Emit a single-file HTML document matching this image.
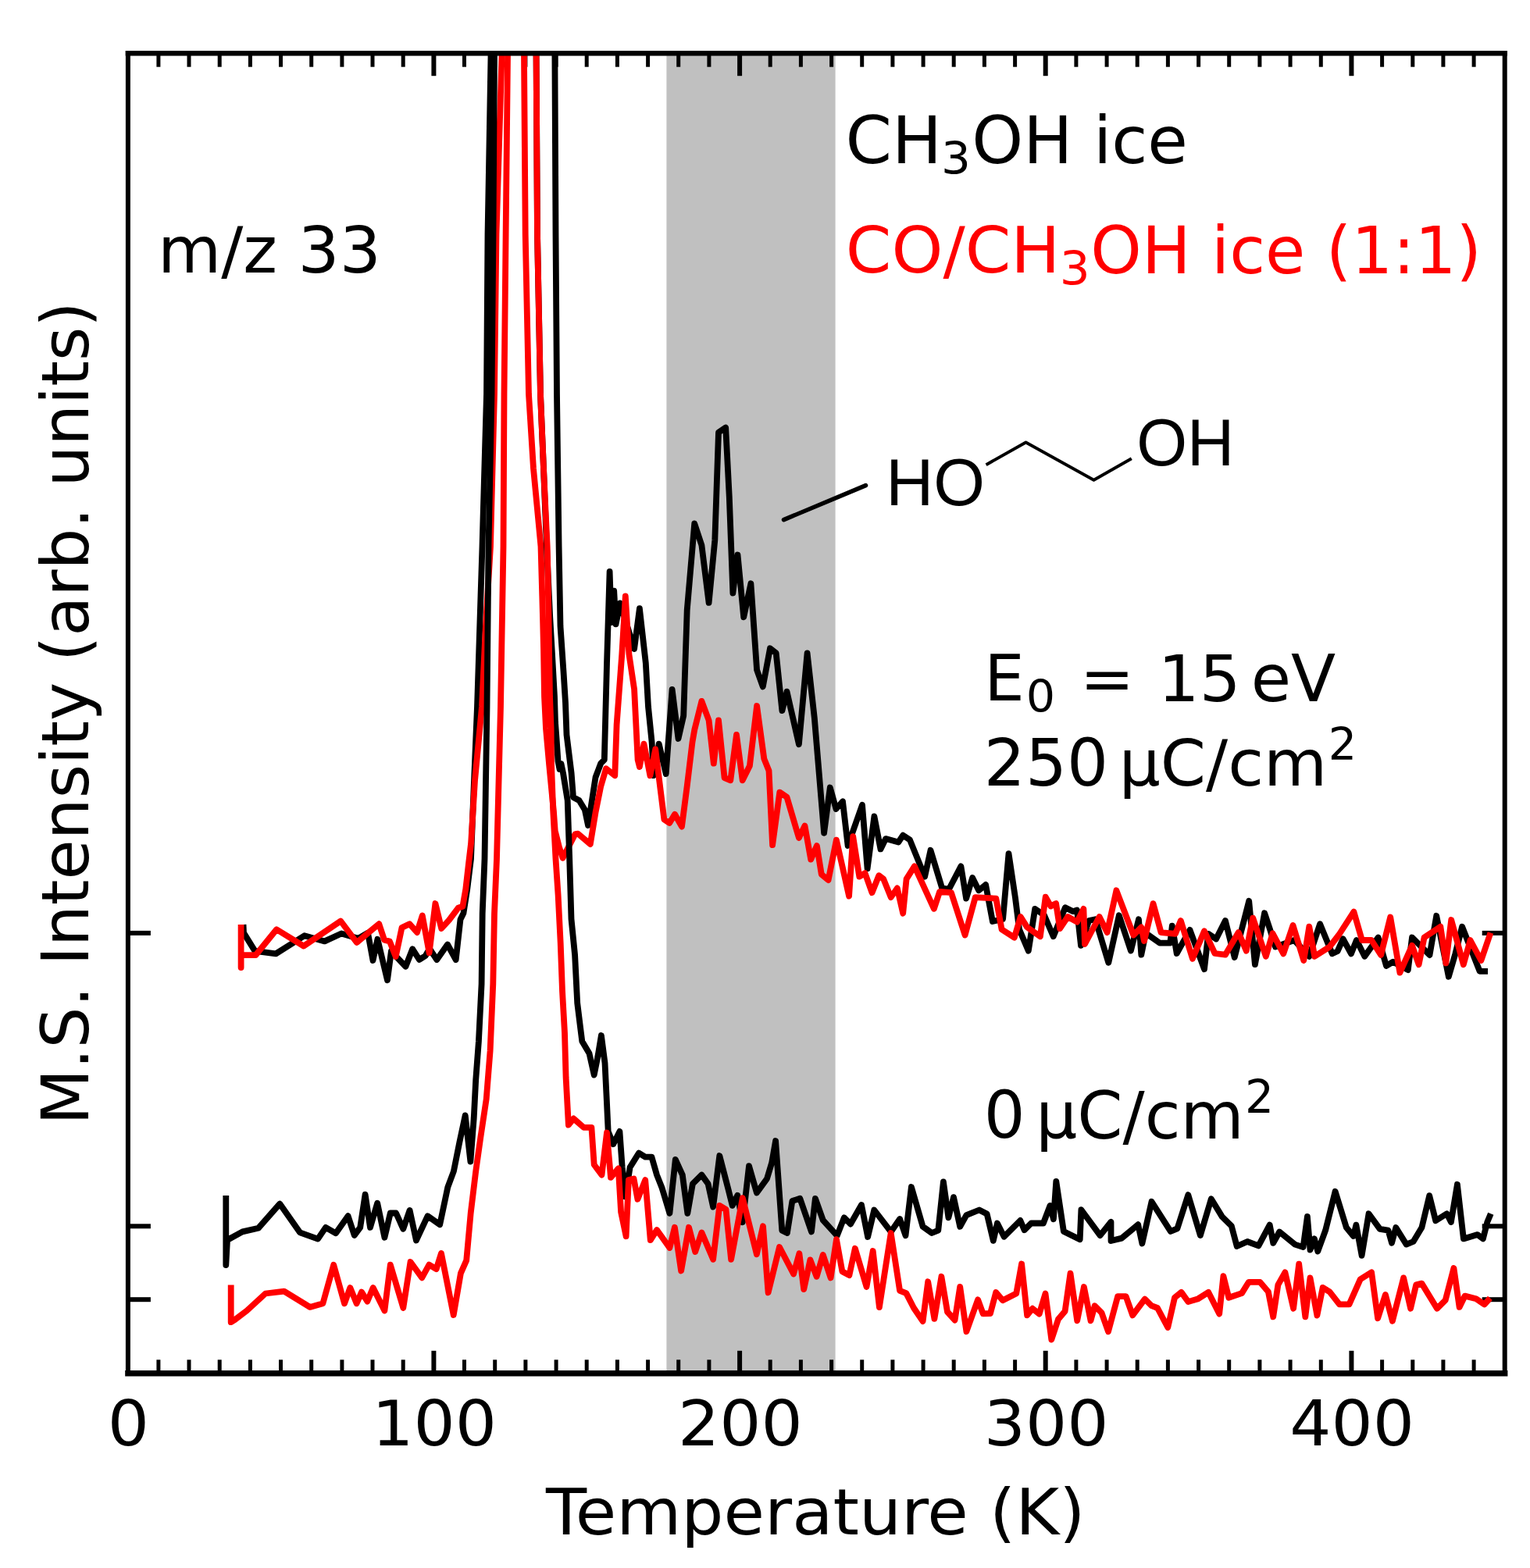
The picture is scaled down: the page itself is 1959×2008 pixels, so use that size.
<!DOCTYPE html>
<html><head><meta charset="utf-8"><title>m/z 33 TPD</title>
<style>html,body{margin:0;padding:0;background:#fff;}svg{display:block;}</style>
</head><body>
<svg xmlns="http://www.w3.org/2000/svg" width="1959" height="2008" viewBox="0 0 1959 2008">
<defs><clipPath id="c"><rect x="163.9" y="68.2" width="1762.8" height="1690.6"/></clipPath></defs>
<rect x="0" y="0" width="1959" height="2008" fill="#fff"/>
<rect x="853.4" y="68.2" width="216.2" height="1690.6" fill="#c0c0c0"/>
<g stroke="#000"><line x1="202.9" y1="1758.8" x2="202.9" y2="1741.3" stroke-width="5"/><line x1="202.9" y1="68.2" x2="202.9" y2="85.7" stroke-width="5"/><line x1="242.0" y1="1758.8" x2="242.0" y2="1741.3" stroke-width="5"/><line x1="242.0" y1="68.2" x2="242.0" y2="85.7" stroke-width="5"/><line x1="281.2" y1="1758.8" x2="281.2" y2="1741.3" stroke-width="5"/><line x1="281.2" y1="68.2" x2="281.2" y2="85.7" stroke-width="5"/><line x1="320.4" y1="1758.8" x2="320.4" y2="1741.3" stroke-width="5"/><line x1="320.4" y1="68.2" x2="320.4" y2="85.7" stroke-width="5"/><line x1="359.5" y1="1758.8" x2="359.5" y2="1741.3" stroke-width="5"/><line x1="359.5" y1="68.2" x2="359.5" y2="85.7" stroke-width="5"/><line x1="398.7" y1="1758.8" x2="398.7" y2="1741.3" stroke-width="5"/><line x1="398.7" y1="68.2" x2="398.7" y2="85.7" stroke-width="5"/><line x1="437.9" y1="1758.8" x2="437.9" y2="1741.3" stroke-width="5"/><line x1="437.9" y1="68.2" x2="437.9" y2="85.7" stroke-width="5"/><line x1="477.0" y1="1758.8" x2="477.0" y2="1741.3" stroke-width="5"/><line x1="477.0" y1="68.2" x2="477.0" y2="85.7" stroke-width="5"/><line x1="516.2" y1="1758.8" x2="516.2" y2="1741.3" stroke-width="5"/><line x1="516.2" y1="68.2" x2="516.2" y2="85.7" stroke-width="5"/><line x1="555.4" y1="1758.8" x2="555.4" y2="1729.8" stroke-width="6"/><line x1="555.4" y1="68.2" x2="555.4" y2="97.2" stroke-width="6"/><line x1="594.5" y1="1758.8" x2="594.5" y2="1741.3" stroke-width="5"/><line x1="594.5" y1="68.2" x2="594.5" y2="85.7" stroke-width="5"/><line x1="633.7" y1="1758.8" x2="633.7" y2="1741.3" stroke-width="5"/><line x1="633.7" y1="68.2" x2="633.7" y2="85.7" stroke-width="5"/><line x1="672.9" y1="1758.8" x2="672.9" y2="1741.3" stroke-width="5"/><line x1="672.9" y1="68.2" x2="672.9" y2="85.7" stroke-width="5"/><line x1="712.1" y1="1758.8" x2="712.1" y2="1741.3" stroke-width="5"/><line x1="712.1" y1="68.2" x2="712.1" y2="85.7" stroke-width="5"/><line x1="751.2" y1="1758.8" x2="751.2" y2="1741.3" stroke-width="5"/><line x1="751.2" y1="68.2" x2="751.2" y2="85.7" stroke-width="5"/><line x1="790.4" y1="1758.8" x2="790.4" y2="1741.3" stroke-width="5"/><line x1="790.4" y1="68.2" x2="790.4" y2="85.7" stroke-width="5"/><line x1="829.6" y1="1758.8" x2="829.6" y2="1741.3" stroke-width="5"/><line x1="829.6" y1="68.2" x2="829.6" y2="85.7" stroke-width="5"/><line x1="868.7" y1="1758.8" x2="868.7" y2="1741.3" stroke-width="5"/><line x1="868.7" y1="68.2" x2="868.7" y2="85.7" stroke-width="5"/><line x1="907.9" y1="1758.8" x2="907.9" y2="1741.3" stroke-width="5"/><line x1="907.9" y1="68.2" x2="907.9" y2="85.7" stroke-width="5"/><line x1="947.1" y1="1758.8" x2="947.1" y2="1729.8" stroke-width="6"/><line x1="947.1" y1="68.2" x2="947.1" y2="97.2" stroke-width="6"/><line x1="986.2" y1="1758.8" x2="986.2" y2="1741.3" stroke-width="5"/><line x1="986.2" y1="68.2" x2="986.2" y2="85.7" stroke-width="5"/><line x1="1025.4" y1="1758.8" x2="1025.4" y2="1741.3" stroke-width="5"/><line x1="1025.4" y1="68.2" x2="1025.4" y2="85.7" stroke-width="5"/><line x1="1064.6" y1="1758.8" x2="1064.6" y2="1741.3" stroke-width="5"/><line x1="1064.6" y1="68.2" x2="1064.6" y2="85.7" stroke-width="5"/><line x1="1103.7" y1="1758.8" x2="1103.7" y2="1741.3" stroke-width="5"/><line x1="1103.7" y1="68.2" x2="1103.7" y2="85.7" stroke-width="5"/><line x1="1142.9" y1="1758.8" x2="1142.9" y2="1741.3" stroke-width="5"/><line x1="1142.9" y1="68.2" x2="1142.9" y2="85.7" stroke-width="5"/><line x1="1182.1" y1="1758.8" x2="1182.1" y2="1741.3" stroke-width="5"/><line x1="1182.1" y1="68.2" x2="1182.1" y2="85.7" stroke-width="5"/><line x1="1221.2" y1="1758.8" x2="1221.2" y2="1741.3" stroke-width="5"/><line x1="1221.2" y1="68.2" x2="1221.2" y2="85.7" stroke-width="5"/><line x1="1260.4" y1="1758.8" x2="1260.4" y2="1741.3" stroke-width="5"/><line x1="1260.4" y1="68.2" x2="1260.4" y2="85.7" stroke-width="5"/><line x1="1299.6" y1="1758.8" x2="1299.6" y2="1741.3" stroke-width="5"/><line x1="1299.6" y1="68.2" x2="1299.6" y2="85.7" stroke-width="5"/><line x1="1338.7" y1="1758.8" x2="1338.7" y2="1729.8" stroke-width="6"/><line x1="1338.7" y1="68.2" x2="1338.7" y2="97.2" stroke-width="6"/><line x1="1377.9" y1="1758.8" x2="1377.9" y2="1741.3" stroke-width="5"/><line x1="1377.9" y1="68.2" x2="1377.9" y2="85.7" stroke-width="5"/><line x1="1417.1" y1="1758.8" x2="1417.1" y2="1741.3" stroke-width="5"/><line x1="1417.1" y1="68.2" x2="1417.1" y2="85.7" stroke-width="5"/><line x1="1456.2" y1="1758.8" x2="1456.2" y2="1741.3" stroke-width="5"/><line x1="1456.2" y1="68.2" x2="1456.2" y2="85.7" stroke-width="5"/><line x1="1495.4" y1="1758.8" x2="1495.4" y2="1741.3" stroke-width="5"/><line x1="1495.4" y1="68.2" x2="1495.4" y2="85.7" stroke-width="5"/><line x1="1534.6" y1="1758.8" x2="1534.6" y2="1741.3" stroke-width="5"/><line x1="1534.6" y1="68.2" x2="1534.6" y2="85.7" stroke-width="5"/><line x1="1573.7" y1="1758.8" x2="1573.7" y2="1741.3" stroke-width="5"/><line x1="1573.7" y1="68.2" x2="1573.7" y2="85.7" stroke-width="5"/><line x1="1612.9" y1="1758.8" x2="1612.9" y2="1741.3" stroke-width="5"/><line x1="1612.9" y1="68.2" x2="1612.9" y2="85.7" stroke-width="5"/><line x1="1652.1" y1="1758.8" x2="1652.1" y2="1741.3" stroke-width="5"/><line x1="1652.1" y1="68.2" x2="1652.1" y2="85.7" stroke-width="5"/><line x1="1691.3" y1="1758.8" x2="1691.3" y2="1741.3" stroke-width="5"/><line x1="1691.3" y1="68.2" x2="1691.3" y2="85.7" stroke-width="5"/><line x1="1730.4" y1="1758.8" x2="1730.4" y2="1729.8" stroke-width="6"/><line x1="1730.4" y1="68.2" x2="1730.4" y2="97.2" stroke-width="6"/><line x1="1769.6" y1="1758.8" x2="1769.6" y2="1741.3" stroke-width="5"/><line x1="1769.6" y1="68.2" x2="1769.6" y2="85.7" stroke-width="5"/><line x1="1808.8" y1="1758.8" x2="1808.8" y2="1741.3" stroke-width="5"/><line x1="1808.8" y1="68.2" x2="1808.8" y2="85.7" stroke-width="5"/><line x1="1847.9" y1="1758.8" x2="1847.9" y2="1741.3" stroke-width="5"/><line x1="1847.9" y1="68.2" x2="1847.9" y2="85.7" stroke-width="5"/><line x1="1887.1" y1="1758.8" x2="1887.1" y2="1741.3" stroke-width="5"/><line x1="1887.1" y1="68.2" x2="1887.1" y2="85.7" stroke-width="5"/><line x1="163.9" y1="1194.9" x2="192.9" y2="1194.9" stroke-width="6"/><line x1="1926.7" y1="1194.9" x2="1897.7" y2="1194.9" stroke-width="6"/><line x1="163.9" y1="1570.3" x2="192.9" y2="1570.3" stroke-width="6"/><line x1="1926.7" y1="1570.3" x2="1897.7" y2="1570.3" stroke-width="6"/><line x1="163.9" y1="1664.2" x2="192.9" y2="1664.2" stroke-width="6"/><line x1="1926.7" y1="1664.2" x2="1897.7" y2="1664.2" stroke-width="6"/></g>
<g clip-path="url(#c)" fill="none" stroke-width="7.80" stroke-linejoin="round" stroke-linecap="butt">
<polyline stroke="#000" points="311.5,1184.0 312.0,1194.6 326.4,1217.9 353.2,1221.4 389.8,1198.2 415.7,1205.4 437.1,1195.5 458.6,1201.8 471.0,1194.6 477.5,1230.0 483.4,1202.7 496.0,1255.3 500.9,1218.3 519.4,1237.7 528.2,1215.3 536.9,1229.0 544.7,1224.0 550.0,1215.0 559.3,1229.0 573.0,1209.5 583.7,1229.0 589.5,1177.4 593.4,1169.6 598.3,1138.4 603.0,1100.0 607.0,1000.0 611.0,905.0 617.5,700.0 623.0,505.0 624.5,300.0 628.5,72.0 629.0,30.0 710.0,30.0 710.4,72.0 711.5,300.0 713.0,505.0 715.6,700.0 717.5,802.0 721.5,860.0 724.0,900.0 725.5,941.0 731.6,990.0 734.0,1021.0 741.5,1025.0 748.8,1037.0 753.0,1057.0 762.5,995.5 769.3,977.5 773.8,973.0 777.0,850.0 780.6,731.8 782.8,797.2 786.2,756.6 788.5,799.4 794.0,772.4 812.1,831.0 818.9,779.2 826.8,849.0 830.0,905.0 834.6,950.4 836.9,993.2 843.7,952.7 852.7,991.0 860.6,882.8 868.5,946.0 875.2,916.6 879.7,781.4 886.5,702.5 889.2,670.5 898.4,698.2 907.6,771.9 915.3,692.0 920.0,553.8 929.2,547.6 933.8,636.7 938.4,759.6 944.5,710.5 952.2,790.4 961.4,747.3 969.1,858.0 976.8,879.4 986.0,830.3 993.7,836.4 1001.4,910.2 1007.5,885.6 1022.9,953.2 1033.6,836.4 1042.8,919.4 1055.1,1066.8 1062.8,1008.5 1070.5,1036.0 1079.0,1026.3 1085.6,1083.0 1104.0,1030.7 1110.6,1112.4 1119.4,1045.4 1127.5,1087.4 1134.1,1074.1 1150.3,1078.5 1156.2,1069.7 1165.0,1075.6 1184.1,1122.6 1191.5,1088.8 1206.2,1137.4 1215.0,1138.8 1230.4,1109.4 1237.1,1150.6 1245.1,1124.1 1253.2,1140.3 1262.1,1133.0 1270.9,1180.0 1284.1,1177.0 1291.5,1093.2 1300.0,1150.0 1305.0,1190.0 1316.8,1217.6 1325.2,1163.9 1337.0,1172.0 1348.7,1199.2 1363.9,1162.2 1374.0,1167.2 1379.0,1165.5 1384.0,1210.9 1394.1,1179.0 1402.5,1177.3 1419.3,1232.8 1432.8,1172.3 1447.9,1217.6 1458.0,1177.3 1461.3,1222.7 1467.0,1195.0 1484.9,1207.6 1498.3,1207.6 1500.8,1185.7 1506.7,1221.0 1523.5,1190.8 1542.0,1241.2 1547.1,1195.8 1557.1,1202.5 1568.9,1179.0 1580.7,1226.0 1599.2,1153.8 1606.9,1235.2 1619.1,1169.3 1626.0,1190.0 1633.0,1212.6 1657.2,1204.0 1676.3,1224.8 1690.1,1183.2 1705.7,1221.3 1712.7,1217.9 1719.6,1202.3 1730.0,1221.3 1736.9,1204.0 1747.3,1224.8 1764.6,1200.5 1775.0,1236.9 1783.7,1231.7 1802.8,1242.1 1808.0,1200.5 1830.5,1223.0 1839.2,1172.8 1854.8,1250.8 1863.4,1221.3 1872.1,1186.7 1894.6,1243.8 1905.0,1243.8"/>
<polyline stroke="#f00" points="308.6,1184.0 308.6,1239.0 308.6,1223.0 327.3,1223.2 354.1,1190.2 388.9,1211.6 436.2,1179.5 456.8,1207.0 474.6,1192.0 485.3,1183.2 492.1,1203.7 499.0,1205.6 506.7,1225.0 514.5,1188.0 524.3,1183.2 534.0,1194.0 540.8,1172.5 549.6,1220.2 557.4,1157.0 565.2,1189.0 574.9,1178.3 586.6,1162.8 592.4,1160.8 596.3,1138.4 600.2,1104.3 603.1,1080.0 608.0,1000.0 617.0,905.0 622.0,800.0 628.0,700.0 633.0,505.0 635.5,300.0 642.5,72.0 643.0,30.0 670.8,30.0 671.0,72.0 672.7,300.0 677.0,505.0 683.0,600.0 692.5,700.0 695.0,790.0 696.0,831.0 697.0,892.0 699.0,933.0 703.0,978.0 709.0,1040.0 710.7,1064.0 716.0,1085.0 720.6,1098.8 736.5,1068.0 740.0,1067.6 755.8,1081.0 762.5,1040.6 769.3,1006.8 776.0,984.2 787.3,993.2 789.6,927.9 796.3,837.7 800.8,763.4 805.4,837.7 812.1,882.8 816.6,973.0 818.9,982.0 824.5,952.7 832.4,993.2 839.2,959.4 850.4,1049.6 857.2,1054.0 864.0,1042.8 873.0,1058.6 879.7,1006.8 886.5,950.4 889.2,934.8 898.4,897.9 907.6,922.5 913.8,977.7 920.0,922.5 927.6,996.2 935.3,999.3 943.0,940.9 950.7,999.3 959.9,980.8 969.1,904.0 978.3,971.6 984.5,987.0 989.1,1082.2 998.3,1014.6 1007.5,1020.8 1022.9,1073.0 1030.5,1057.6 1038.2,1100.6 1045.9,1083.0 1051.8,1119.7 1060.6,1127.0 1070.9,1075.6 1087.1,1147.6 1092.2,1071.2 1100.3,1122.6 1107.6,1118.2 1116.5,1143.2 1125.3,1121.2 1131.2,1125.6 1140.7,1149.1 1148.8,1137.4 1156.2,1169.7 1160.6,1125.6 1170.9,1109.4 1195.9,1163.8 1203.2,1141.8 1218.0,1143.2 1235.6,1197.6 1248.8,1149.1 1275.3,1150.6 1282.6,1190.3 1298.8,1200.6 1306.7,1174.0 1315.1,1187.4 1331.9,1199.2 1338.7,1148.7 1345.4,1160.5 1352.1,1157.1 1357.1,1189.1 1367.2,1174.0 1379.0,1180.7 1387.4,1163.9 1389.0,1209.0 1407.6,1174.0 1417.6,1194.1 1429.4,1140.3 1451.3,1197.5 1461.3,1187.4 1465.0,1205.0 1476.5,1157.1 1486.6,1194.1 1505.0,1195.8 1511.8,1179.0 1526.9,1227.7 1542.0,1192.4 1555.5,1221.0 1568.9,1222.7 1585.7,1194.1 1595.8,1217.6 1604.2,1175.6 1620.8,1224.8 1629.5,1195.3 1643.3,1221.3 1655.5,1184.9 1669.3,1230.0 1676.3,1186.7 1683.2,1224.8 1702.3,1212.6 1714.4,1197.0 1733.4,1167.6 1743.9,1204.0 1756.0,1204.0 1768.1,1223.0 1780.2,1174.5 1792.4,1245.6 1808.0,1210.9 1816.6,1235.2 1823.6,1200.5 1844.4,1186.7 1851.3,1233.4 1858.2,1178.0 1873.8,1235.2 1882.5,1204.0 1896.4,1230.0 1908.5,1194.5"/>
<polyline stroke="#000" points="289.3,1531.0 289.3,1620.0 291.0,1588.0 310.4,1577.4 330.7,1572.8 358.2,1541.6 384.0,1578.3 407.0,1586.6 417.0,1571.9 430.0,1579.3 445.6,1557.2 453.8,1582.0 461.2,1571.9 467.6,1529.6 474.0,1571.9 483.2,1540.7 492.4,1584.8 499.8,1553.5 507.1,1553.5 516.3,1573.8 524.6,1549.9 532.9,1588.5 547.6,1557.2 563.2,1568.2 573.3,1520.4 580.9,1500.0 588.3,1462.9 595.7,1428.4 602.4,1487.5 606.7,1432.1 609.2,1383.0 612.9,1333.8 616.6,1260.0 617.7,1170.0 620.5,1100.0 623.5,905.0 625.5,700.0 629.5,505.0 631.5,300.0 633.0,72.0 633.5,30.0 686.5,30.0 686.6,72.0 688.0,300.0 692.0,505.0 696.0,600.0 700.0,700.0 704.2,790.0 706.6,831.0 710.0,892.0 711.0,925.0 712.5,945.0 714.5,975.0 716.5,985.0 718.5,978.0 721.0,990.0 726.7,1025.0 729.2,1100.0 731.5,1176.8 736.1,1223.0 739.2,1284.4 743.0,1315.2 745.3,1333.6 754.5,1349.0 760.7,1376.6 765.3,1353.6 769.9,1326.0 774.5,1361.3 777.0,1412.8 778.7,1448.9 785.2,1465.2 793.4,1448.9 796.7,1494.8 800.8,1532.5 806.6,1494.8 818.0,1476.7 826.2,1481.6 834.4,1481.6 841.0,1504.6 847.5,1521.0 857.4,1553.8 864.8,1484.9 873.8,1504.6 880.3,1553.8 886.9,1516.0 898.4,1504.6 906.6,1516.0 913.1,1545.6 921.3,1480.0 932.8,1524.3 937.7,1543.9 944.3,1530.8 950.8,1565.2 959.0,1493.1 968.9,1527.5 982.0,1509.5 988.2,1488.9 993.1,1461.0 1001.3,1575.7 1007.9,1579.0 1014.4,1538.0 1024.3,1534.8 1039.0,1577.4 1043.9,1534.8 1053.8,1562.6 1071.8,1582.3 1080.8,1559.3 1089.0,1567.5 1103.0,1543.0 1111.1,1584.0 1119.3,1549.5 1140.7,1577.4 1152.1,1561.0 1159.5,1582.3 1166.9,1520.0 1181.6,1570.8 1193.1,1579.0 1201.3,1575.7 1207.9,1513.4 1214.4,1559.3 1221.0,1533.1 1229.2,1570.8 1237.4,1556.1 1253.8,1549.5 1263.6,1554.4 1271.8,1588.9 1276.9,1566.5 1285.6,1583.8 1306.4,1563.0 1311.6,1575.2 1320.3,1566.5 1335.9,1566.5 1344.5,1544.0 1348.9,1561.3 1352.3,1512.8 1361.9,1576.9 1382.7,1587.3 1384.4,1549.2 1408.6,1582.1 1422.5,1564.8 1422.5,1589.0 1436.4,1585.6 1457.2,1568.2 1462.4,1592.5 1474.5,1538.8 1498.8,1576.9 1507.4,1573.4 1521.3,1530.1 1536.9,1582.1 1550.8,1535.3 1564.6,1557.9 1576.8,1570.0 1583.7,1596.0 1597.1,1590.0 1611.4,1595.4 1625.7,1568.6 1630.2,1591.8 1638.2,1577.5 1657.9,1593.6 1668.6,1597.1 1673.9,1557.9 1677.5,1600.7 1682.9,1586.4 1687.3,1602.5 1697.1,1575.7 1709.6,1525.7 1723.9,1572.1 1732.9,1582.9 1736.4,1568.6 1743.6,1607.9 1752.5,1554.3 1766.8,1573.9 1777.5,1575.7 1782.0,1591.8 1787.3,1572.1 1800.7,1593.6 1809.6,1590.0 1820.4,1572.1 1830.2,1531.1 1838.2,1563.2 1852.5,1554.3 1857.9,1565.0 1865.9,1516.8 1873.9,1586.4 1891.8,1581.1 1898.9,1586.4 1904.3,1565.0 1908.8,1554.3"/>
<polyline stroke="#f00" points="295.7,1645.4 295.7,1693.2 301.3,1689.6 316.0,1678.5 339.9,1656.5 363.8,1653.7 396.8,1673.9 413.4,1669.3 427.2,1619.7 441.0,1669.3 448.3,1649.1 456.6,1669.3 463.0,1654.6 470.4,1666.6 477.7,1649.1 492.4,1678.5 499.8,1619.7 516.3,1674.9 525.5,1616.0 540.2,1636.3 549.4,1619.7 558.6,1625.2 565.0,1605.0 580.7,1684.0 589.9,1630.7 597.2,1614.2 602.7,1553.5 609.2,1500.0 615.3,1456.7 622.7,1407.5 627.6,1346.0 631.3,1260.0 633.0,1170.0 636.0,1100.0 641.0,905.0 644.5,700.0 645.5,505.0 647.6,300.0 650.0,72.0 650.5,30.0 686.5,30.0 686.6,72.0 688.0,300.0 692.0,505.0 696.0,600.0 700.7,700.0 702.5,790.0 703.0,831.0 704.0,892.0 705.6,933.0 706.0,978.0 708.3,1040.0 711.5,1100.0 714.6,1146.0 717.7,1207.6 720.0,1269.0 723.0,1322.8 724.6,1380.0 727.9,1440.7 734.4,1432.5 747.5,1443.9 757.4,1443.9 760.7,1491.5 770.5,1504.6 777.0,1450.5 782.0,1507.9 791.8,1496.4 795.1,1552.1 801.6,1583.3 804.9,1511.1 811.5,1509.5 816.4,1535.7 826.2,1511.1 832.8,1588.2 841.0,1575.1 857.4,1598.0 863.9,1571.8 872.1,1627.5 882.0,1571.8 890.2,1603.0 898.4,1578.4 913.1,1612.8 921.3,1543.9 929.5,1548.9 936.1,1612.8 950.8,1534.1 968.9,1606.2 977.0,1570.2 983.6,1655.4 998.0,1597.0 1016.1,1631.5 1023.4,1605.2 1029.2,1651.1 1037.4,1613.4 1045.6,1634.8 1053.8,1606.9 1063.6,1636.4 1071.0,1587.2 1078.4,1628.2 1087.4,1633.1 1094.8,1598.7 1109.5,1647.9 1117.7,1602.0 1125.9,1674.1 1140.7,1579.0 1152.1,1652.8 1160.3,1656.1 1170.0,1675.0 1181.6,1692.1 1188.2,1641.3 1196.4,1688.9 1205.4,1634.8 1213.0,1680.0 1222.6,1690.5 1229.2,1647.9 1237.4,1705.2 1252.1,1664.3 1258.7,1682.3 1268.0,1682.0 1275.2,1654.9 1283.9,1665.3 1301.2,1656.6 1308.1,1618.5 1315.1,1684.4 1322.0,1675.7 1330.7,1682.6 1338.5,1656.6 1346.3,1715.6 1354.9,1689.6 1363.6,1679.2 1370.5,1630.6 1379.2,1691.3 1387.9,1648.0 1396.5,1691.3 1401.7,1672.2 1410.4,1680.9 1419.0,1705.2 1431.2,1660.1 1441.6,1660.1 1450.2,1684.4 1465.8,1663.6 1474.5,1672.2 1482.0,1675.0 1495.3,1700.0 1504.0,1661.8 1512.6,1654.9 1521.3,1667.0 1533.4,1663.6 1547.3,1654.9 1561.2,1682.6 1566.4,1634.1 1573.3,1661.8 1590.0,1656.1 1598.9,1641.8 1613.2,1641.8 1623.9,1654.3 1630.2,1686.4 1636.4,1645.4 1645.4,1629.3 1656.1,1675.7 1663.2,1618.6 1671.3,1686.4 1677.5,1636.4 1686.4,1684.6 1693.6,1648.9 1702.5,1654.3 1715.0,1670.4 1727.5,1670.4 1741.8,1638.2 1756.1,1629.3 1764.1,1688.2 1773.9,1657.9 1782.9,1691.8 1797.1,1636.4 1806.1,1675.7 1813.2,1645.4 1820.4,1643.6 1840.0,1675.7 1850.7,1665.0 1861.4,1623.9 1868.6,1673.9 1875.7,1659.6 1890.0,1663.2 1900.7,1670.4 1907.9,1662.3"/>
</g>
<line x1="1003.5" y1="665.6" x2="1108.5" y2="621.6" stroke="#000" stroke-width="5.5" stroke-linecap="round"/>
<polyline points="1262.6,595.2 1313.5,566.5 1400.5,614.8 1448.8,587.3" fill="none" stroke="#000" stroke-width="4" stroke-linejoin="round"/>
<g stroke="#000" stroke-linecap="square"><line x1="163.9" y1="68.2" x2="1926.7" y2="68.2" stroke-width="6.4"/><line x1="163.9" y1="1758.8" x2="1926.7" y2="1758.8" stroke-width="7.4"/><line x1="163.9" y1="68.2" x2="163.9" y2="1758.8" stroke-width="6"/><line x1="1926.7" y1="68.2" x2="1926.7" y2="1758.8" stroke-width="6"/></g>
<g fill="#000"><text transform="translate(201.99,348.88) scale(0.8340,0.8241)" font-family="DejaVu Sans, sans-serif" font-size="100">m/z 33</text><text transform="translate(1082.49,209.17) scale(0.8519,0.8289)" font-family="DejaVu Sans, sans-serif" font-size="100">CH</text><text transform="translate(1204.93,222.63) scale(0.5958,0.5667)" font-family="DejaVu Sans, sans-serif" font-size="100">3</text><text transform="translate(1244.27,208.76) scale(0.8382,0.8390)" font-family="DejaVu Sans, sans-serif" font-size="100">OH ice</text><text transform="translate(1082.87,349.38) scale(0.8389,0.8131)" font-family="DejaVu Sans, sans-serif" font-size="100" fill="#f00">CO/CH</text><text transform="translate(1356.70,363.61) scale(0.6125,0.5933)" font-family="DejaVu Sans, sans-serif" font-size="100" fill="#f00">3</text><text transform="translate(1396.30,349.56) scale(0.8336,0.8416)" font-family="DejaVu Sans, sans-serif" font-size="100" fill="#f00">OH ice (1:1)</text><text transform="translate(1260.25,897.20) scale(0.8149,0.8123)" font-family="DejaVu Sans, sans-serif" font-size="100">E</text><text transform="translate(1313.68,911.93) scale(0.5880,0.5671)" font-family="DejaVu Sans, sans-serif" font-size="100">0</text><text transform="translate(1382.66,897.32) scale(0.8306,0.8071)" font-family="DejaVu Sans, sans-serif" font-size="100">=</text><text transform="translate(1482.87,897.87) scale(0.8299,0.8257)" font-family="DejaVu Sans, sans-serif" font-size="100">15</text><text transform="translate(1601.69,898.47) scale(0.8350,0.8338)" font-family="DejaVu Sans, sans-serif" font-size="100">eV</text><text transform="translate(1259.87,1006.17) scale(0.8333,0.8289)" font-family="DejaVu Sans, sans-serif" font-size="100">250</text><text transform="translate(1432.79,1005.55) scale(0.8341,0.8167)" font-family="DejaVu Sans, sans-serif" font-size="100">µC/cm</text><text transform="translate(1700.69,973.20) scale(0.5723,0.5676)" font-family="DejaVu Sans, sans-serif" font-size="100">2</text><text transform="translate(1259.69,1457.37) scale(0.8300,0.8289)" font-family="DejaVu Sans, sans-serif" font-size="100">0</text><text transform="translate(1326.29,1457.54) scale(0.8341,0.8312)" font-family="DejaVu Sans, sans-serif" font-size="100">µC/cm</text><text transform="translate(1594.12,1425.40) scale(0.5830,0.5932)" font-family="DejaVu Sans, sans-serif" font-size="100">2</text><text transform="translate(1134.24,647.14) scale(0.8453,0.8606)" font-family="Liberation Sans, Arial, sans-serif" font-size="100">HO</text><text transform="translate(1455.13,595.65) scale(0.8343,0.8521)" font-family="Liberation Sans, Arial, sans-serif" font-size="100">OH</text><text transform="translate(699.00,1964.64) scale(0.8538,0.8268)" font-family="DejaVu Sans, sans-serif" font-size="100">Temperature (K)</text><text transform="translate(164.50,1850.79) scale(0.8375,0.8092)" font-family="DejaVu Sans, sans-serif" font-size="100" text-anchor="middle">0</text><text transform="translate(556.18,1850.79) scale(0.8375,0.8092)" font-family="DejaVu Sans, sans-serif" font-size="100" text-anchor="middle">100</text><text transform="translate(947.86,1850.79) scale(0.8375,0.8092)" font-family="DejaVu Sans, sans-serif" font-size="100" text-anchor="middle">200</text><text transform="translate(1339.54,1850.79) scale(0.8375,0.8092)" font-family="DejaVu Sans, sans-serif" font-size="100" text-anchor="middle">300</text><text transform="translate(1731.22,1850.79) scale(0.8375,0.8092)" font-family="DejaVu Sans, sans-serif" font-size="100" text-anchor="middle">400</text><text transform="translate(112.8,1440.8) rotate(-90) scale(0.8335,0.838)" font-family="DejaVu Sans, sans-serif" font-size="100">M.S. Intensity (arb. units)</text></g>
</svg>
</body></html>
